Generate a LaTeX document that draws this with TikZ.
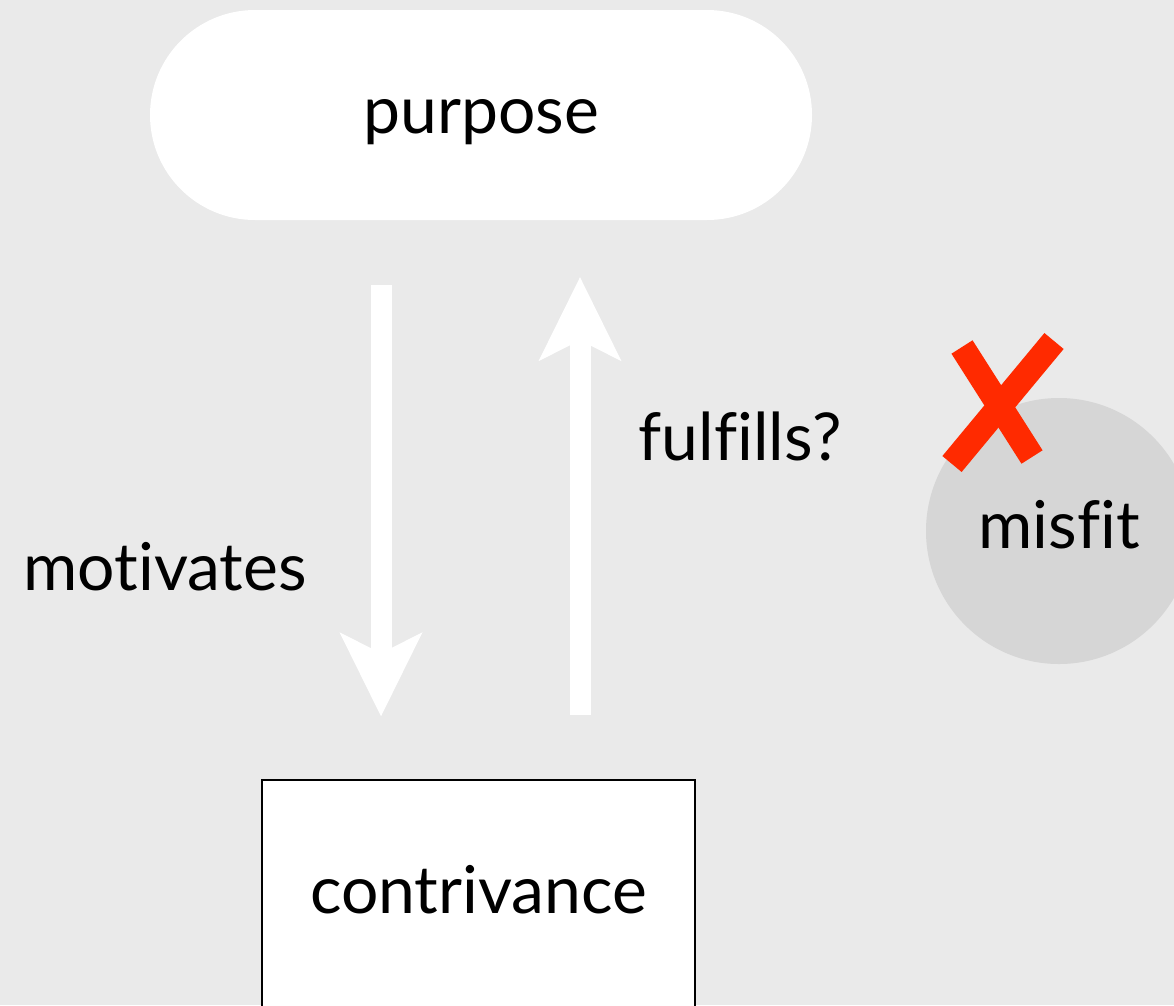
\documentclass[tikz,border=0pt]{standalone}
\usepackage{fontspec}
\setmainfont{Lato}[Ligatures=NoCommon]
\usetikzlibrary{arrows.meta, calc, positioning}
\definecolor{bggray}{HTML}{EAEAEA}
\definecolor{fitgray}{HTML}{D6D6D6}
\definecolor{crossred}{HTML}{FF2A00}

\begin{document}
\begin{tikzpicture}[x=1pt, y=-1pt, font=\fontsize{66}{74}\selectfont,
  bigarrow/.style={draw=white, line width=21pt, -{Stealth[length=84pt, width=83pt, inset=21pt, line width=0pt]}},
  cross/.style={draw=crossred, line width=25pt}]
\fill[bggray] (0,0) rectangle (1174,1005);
\clip (0,0) rectangle (1174,1005);
\node[fill=white, rounded corners=105pt, minimum width=662pt, minimum height=210pt, text height=48pt, text depth=12pt] (purpose) at (481,115) {purpose};
\node[draw=black, line width=1.5pt, fill=white, minimum width=433pt, minimum height=240pt, text height=48pt, text depth=22pt] (contrivance) at (478.5,900) {contrivance};
\node[circle, fill=fitgray, minimum size=266pt, inner sep=0pt, text height=48pt, text depth=14pt] (misfit) at (1059,531) {misfit};
% arrows between the two
\coordinate (downtop) at ($(purpose.south)+(-100,0)$);
\coordinate (upbot) at ($(contrivance.north)+(101.5,0)$);
\draw[bigarrow, shorten <=65pt, shorten >=63pt] (downtop) -- (downtop |- contrivance.north);
\draw[bigarrow, shorten <=64pt, shorten >=57pt] (upbot) -- (upbot |- purpose.south);
\node[anchor=base] (motivates) at (165,590) {motivates};
\node[anchor=base] (fulfills) at (740,460) {fulfills?};
% the cross
\draw[cross] (962,347) -- (1032,457);
\draw[cross] (1054,341) -- (952,464);
\end{tikzpicture}
\end{document}
